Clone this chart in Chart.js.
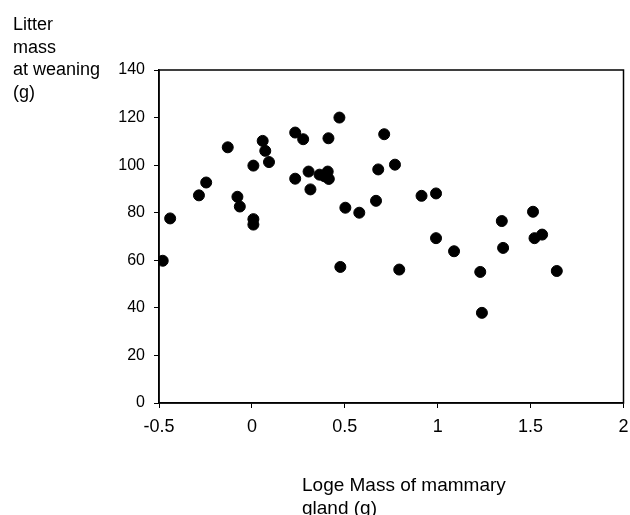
<!DOCTYPE html>
<html lang="en">
<head>
    <meta charset="UTF-8">
    <title>Litter mass vs mammary gland</title>
    <script src="https://cdn.jsdelivr.net/npm/chart.js@4.4.0/dist/chart.umd.min.js"></script>
</head>
<style>
    body { margin: 0; background: #fff; }
    #canvas-div { width: 630px; height: 515px; }
</style>
<body>
    <div id="canvas-div">
        <canvas id="scatter-chart" width="630" height="515"></canvas>
    </div>
    <script>
    // loge mass of mammary gland (g)
    var xValues = [-0.48, -0.44, -0.285, -0.246, -0.13, -0.078, -0.065, 0.008, 0.008, 0.008,
                   0.058, 0.072, 0.092, 0.233, 0.233, 0.276, 0.305, 0.315, 0.364, 0.391,
                   0.408, 0.414, 0.412, 0.471, 0.476, 0.503, 0.578, 0.668, 0.680, 0.712,
                   0.770, 0.793, 0.913, 0.991, 0.991, 1.088, 1.229, 1.238, 1.345, 1.352,
                   1.513, 1.521, 1.562, 1.641];
    // litter mass at weaning (g)
    var yValues = [59.8, 77.6, 87.3, 92.7, 107.5, 86.7, 82.6, 77.3, 75.0, 99.8,
                   110.2, 106.0, 101.3, 113.7, 94.3, 110.9, 97.3, 89.8, 96.0, 95.3,
                   97.3, 94.2, 111.3, 120.0, 57.2, 82.1, 80.0, 85.0, 98.2, 113.0,
                   100.2, 56.1, 87.1, 88.1, 69.3, 63.8, 55.1, 37.9, 76.5, 65.2,
                   80.4, 69.3, 70.8, 55.5];

    var xTickLabels = ["-0.5", "0", "0.5", "1", "1.5", "2"];
    var yTickLabels = ["0", "20", "40", "60", "80", "100", "120", "140"];
    var yTitleLines = ["Litter", "mass", "at weaning", "(g)"];
    var xTitleLines = ["Loge Mass of mammary", "gland (g)"];

    var points = xValues.map(function(x, i) { return { x: x, y: yValues[i] }; });

    var fontName = "'Liberation Sans', Arial, sans-serif";

    // box round the plot plus the two axis titles, left aligned like the original
    var frameAndTitles = {
        id: "frameAndTitles",
        afterDraw: function(chart) {
            var ctx = chart.ctx;
            var a = chart.chartArea;
            ctx.save();
            ctx.strokeStyle = "#000";
            ctx.lineWidth = 1.5;
            ctx.strokeRect(a.left, a.top, a.right - a.left, a.bottom - a.top);

            ctx.fillStyle = "#000";
            ctx.textAlign = "left";
            ctx.textBaseline = "alphabetic";
            ctx.font = "18px " + fontName;
            for (var i = 0; i < yTitleLines.length; i++) {
                ctx.fillText(yTitleLines[i], 13, 30 + i * 22.5);
            }
            ctx.font = "19px " + fontName;
            for (var j = 0; j < xTitleLines.length; j++) {
                ctx.fillText(xTitleLines[j], a.left + 143, 491 + j * 22.5);
            }
            ctx.restore();
        }
    };

    new Chart(document.getElementById("scatter-chart"), {
        type: "scatter",
        data: {
            datasets: [{
                data: points,
                backgroundColor: "#000",
                borderColor: "#000",
                pointRadius: 5.5,
                pointHoverRadius: 5.5,
                showLine: false
            }]
        },
        options: {
            responsive: false,
            animation: false,
            layout: { padding: { top: 70, right: 6, left: 0, bottom: 0 } },
            plugins: {
                legend: { display: false },
                tooltip: { enabled: false }
            },
            scales: {
                x: {
                    type: "linear",
                    min: -0.5,
                    max: 2,
                    ticks: {
                        stepSize: 0.5,
                        color: "#000",
                        padding: 8,
                        font: { family: fontName, size: 18 },
                        callback: function(v, i) { return xTickLabels[i]; }
                    },
                    grid: { drawOnChartArea: false, tickLength: 5, color: "#000" },
                    border: { color: "#000", width: 1.5 },
                    afterFit: function(scale) {
                        scale.height = 112;
                        scale.paddingLeft = 0;
                        scale.paddingRight = 0;
                    }
                },
                y: {
                    min: 0,
                    max: 140,
                    ticks: {
                        stepSize: 20,
                        color: "#000",
                        padding: 9,
                        font: { family: fontName, size: 16 },
                        callback: function(v, i) { return yTickLabels[i]; }
                    },
                    grid: { drawOnChartArea: false, tickLength: 5, color: "#000" },
                    border: { color: "#000", width: 1.5 },
                    afterFit: function(scale) {
                        scale.width = 159;
                        scale.paddingTop = 0;
                        scale.paddingBottom = 0;
                    }
                }
            }
        },
        plugins: [frameAndTitles]
    });
    </script>
</body>
</html>
